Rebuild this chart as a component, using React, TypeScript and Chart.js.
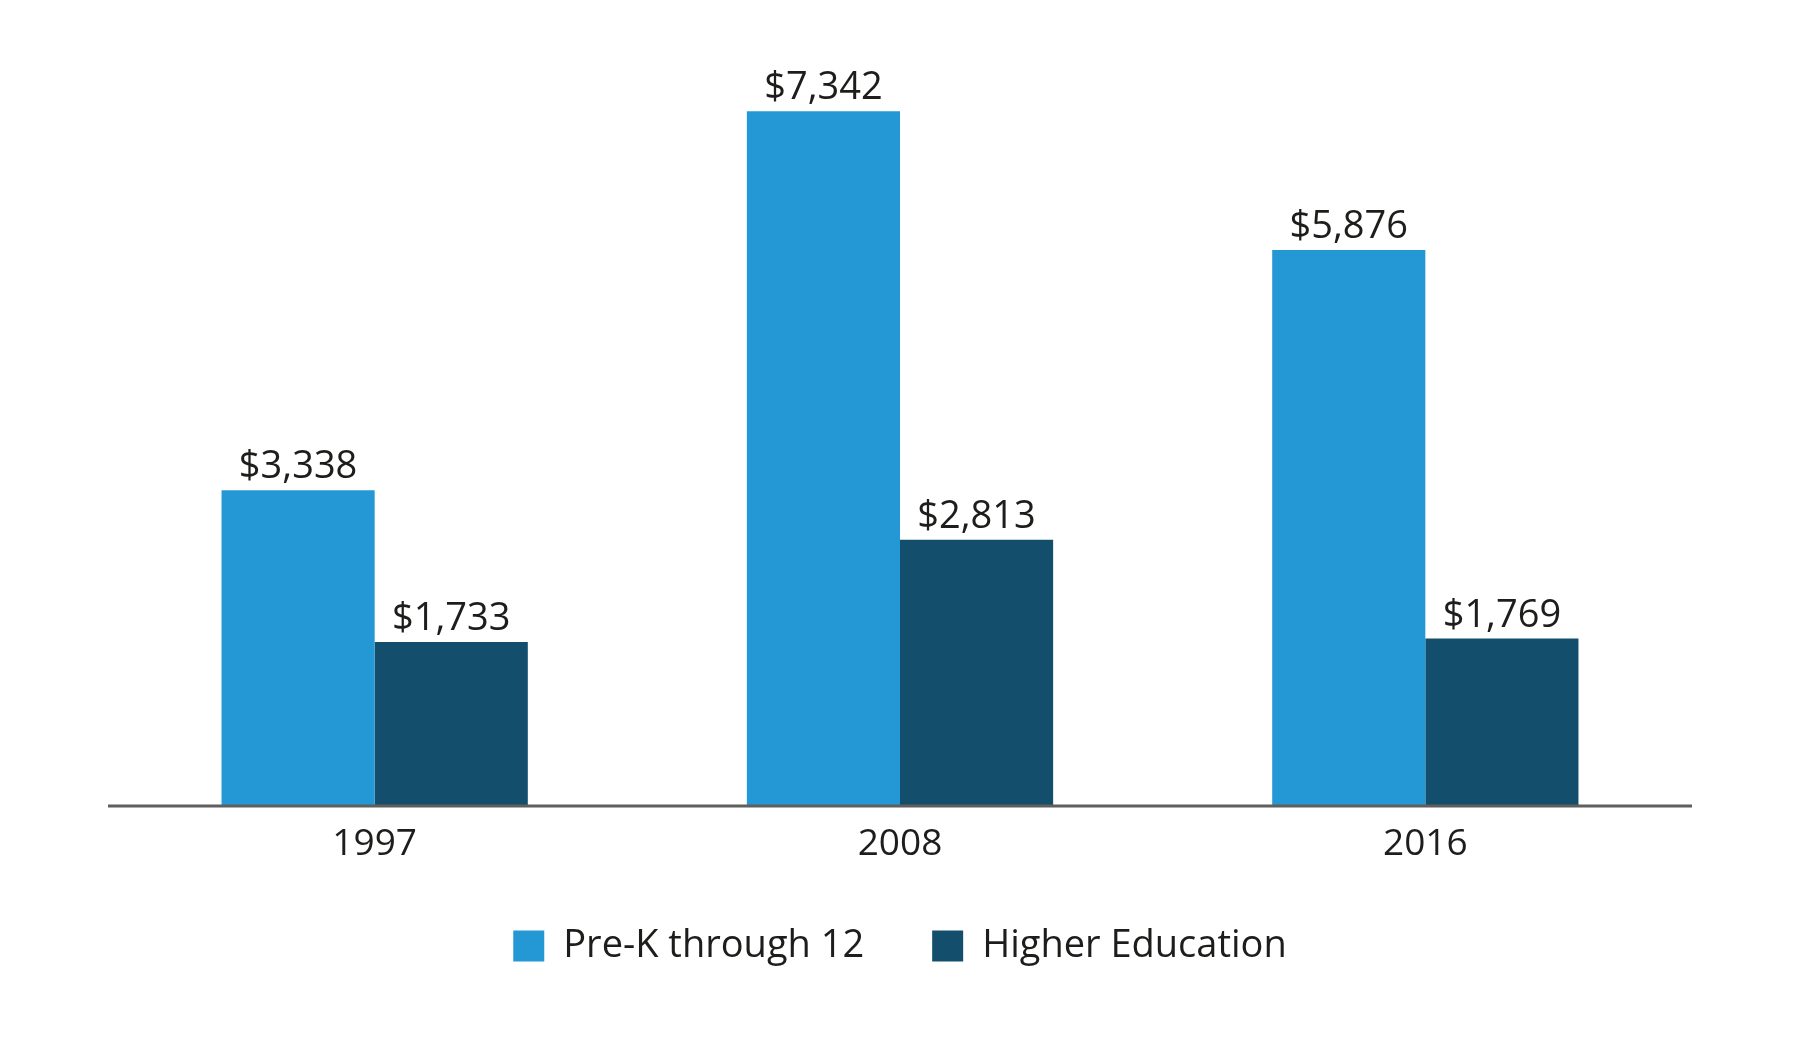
import React, { useEffect, useRef } from "react";
import { Chart, registerables } from "chart.js";

Chart.register(...registerables);

const categories = ["1997", "2008", "2016"];
const preK = [3338, 7342, 5876];
const higherEd = [1733, 2813, 1769];
const seriesNames = ["Pre-K through 12", "Higher Education"];

const FONT = "'Open Sans', 'Noto Sans', sans-serif";

const valueLabels = {
  id: "valueLabels",
  afterDatasetsDraw(chart: any) {
    const ctx = chart.ctx;
    ctx.save();
    ctx.font = `38px ${FONT}`;
    ctx.fillStyle = "#1d1d1b";
    ctx.textAlign = "center";
    ctx.textBaseline = "alphabetic";
    chart.data.datasets.forEach((ds: any, di: number) => {
      const meta = chart.getDatasetMeta(di);
      meta.data.forEach((bar: any, i: number) => {
        const v = ds.data[i] as number;
        ctx.fillText("$" + v.toLocaleString("en-US"), bar.x, bar.y - 12);
      });
    });
    ctx.restore();
  },
};

const baseline = {
  id: "baseline",
  afterDatasetsDraw(chart: any) {
    const { ctx, chartArea } = chart;
    ctx.save();
    ctx.strokeStyle = "#5f5f5f";
    ctx.lineWidth = 3;
    ctx.beginPath();
    ctx.moveTo(chartArea.left - 4, chartArea.bottom);
    ctx.lineTo(chartArea.right + 4, chartArea.bottom);
    ctx.stroke();
    ctx.restore();
  },
};

export default function App() {
  const ref = useRef<HTMLCanvasElement>(null);
  useEffect(() => {
    document.body.style.margin = "0";
    const chart = new Chart(ref.current!, {
      type: "bar",
      data: {
        labels: categories,
        datasets: [
          { label: seriesNames[0], data: preK, backgroundColor: "#2398D4", borderWidth: 0 },
          { label: seriesNames[1], data: higherEd, backgroundColor: "#134F6C", borderWidth: 0 },
        ],
      },
      options: {
        responsive: false,
        animation: false,
        devicePixelRatio: 1,
        layout: { padding: { left: 112, right: 112, top: 49, bottom: 64 } },
        datasets: { bar: { categoryPercentage: 0.583, barPercentage: 1 } },
        scales: {
          x: {
            grid: { display: false, drawTicks: false },
            border: { display: false },
            ticks: { color: "#1d1d1b", padding: 16, font: { family: FONT, size: 37, lineHeight: 1.2 } },
            afterFit: (scale: any) => {
              scale.height = 53;
            },
          },
          y: { display: false, min: 0, max: 8000 },
        },
        plugins: {
          legend: {
            position: "bottom",
            labels: {
              boxWidth: 31,
              boxHeight: 31,
              padding: 68,
              color: "#1d1d1b",
              font: { family: FONT, size: 38 },
            },
          },
          tooltip: { enabled: false },
        },
      } as any,
      plugins: [valueLabels, baseline],
    });
    return () => chart.destroy();
  }, []);
  return (
    <div style={{ position: "absolute", left: 0, top: 0, width: 1800, height: 1039, background: "#fff" }}>
      <canvas ref={ref} width={1800} height={1039} style={{ width: 1800, height: 1039, display: "block" }} />
    </div>
  );
}
